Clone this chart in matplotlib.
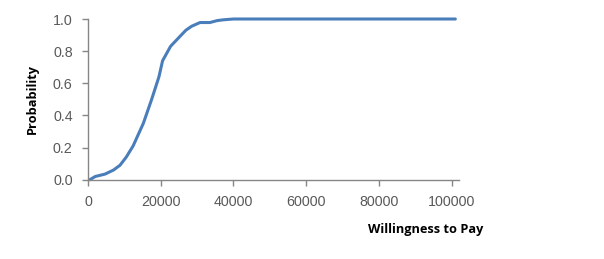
import matplotlib
matplotlib.use("Agg")
import matplotlib.pyplot as plt

wtp = [500, 2000, 4700, 7000, 8800, 10500, 12400, 14000, 15200, 17500, 19500, 20500,
       22700, 25000, 26900, 28500, 30800, 33500, 35500, 37200, 40000, 50000, 60000,
       70000, 80000, 90000, 101000]
prob = [0.0, 0.02, 0.035, 0.06, 0.09, 0.14, 0.21, 0.29, 0.35, 0.50, 0.64, 0.74,
        0.83, 0.885, 0.93, 0.955, 0.978, 0.978, 0.99, 0.995, 1.0, 1.0, 1.0,
        1.0, 1.0, 1.0, 1.0]
xticks = [0, 20000, 40000, 60000, 80000, 100000]
yticks = [0.0, 0.2, 0.4, 0.6, 0.8, 1.0]

W, H = 604, 259
fig = plt.figure(figsize=(W/100, H/100), dpi=100)
ax = fig.add_axes([88/W, (H-179.7)/H, (459-88)/W, (179.7-19)/H])
ax.plot(wtp, prob, color="#4a7ebb", lw=2.2, solid_capstyle="round", clip_on=False)
ax.set_xlim(0, 102000)
ax.set_ylim(0, 1.0)
ax.set_xticks(xticks)
ax.set_yticks(yticks)
ax.set_yticklabels([f"{v:.1f}" for v in yticks])
ax.set_xticklabels([str(v) for v in xticks])
for s in ["top", "right"]:
    ax.spines[s].set_visible(False)
for s in ["left", "bottom"]:
    ax.spines[s].set_color("#868686")
    ax.spines[s].set_linewidth(1.0)
ax.tick_params(axis="both", colors="#868686", labelcolor="#595959", labelsize=10.3,
               length=4, width=1.0, direction="out")
ax.tick_params(axis="x", pad=7)
ax.tick_params(axis="y", pad=7)
for lab in ax.get_xticklabels() + ax.get_yticklabels():
    lab.set_family("Liberation Sans")
fig.text(32/W, (H-99)/H, "Probability", rotation=90, ha="center", va="center",
         fontsize=9.2, fontweight="bold", family="Open Sans")
fig.text(426/W, (H-229)/H, "Willingness to Pay", ha="center", va="center",
         fontsize=9.2, fontweight="bold", family="Open Sans")
fig.savefig("out.png", dpi=100)
